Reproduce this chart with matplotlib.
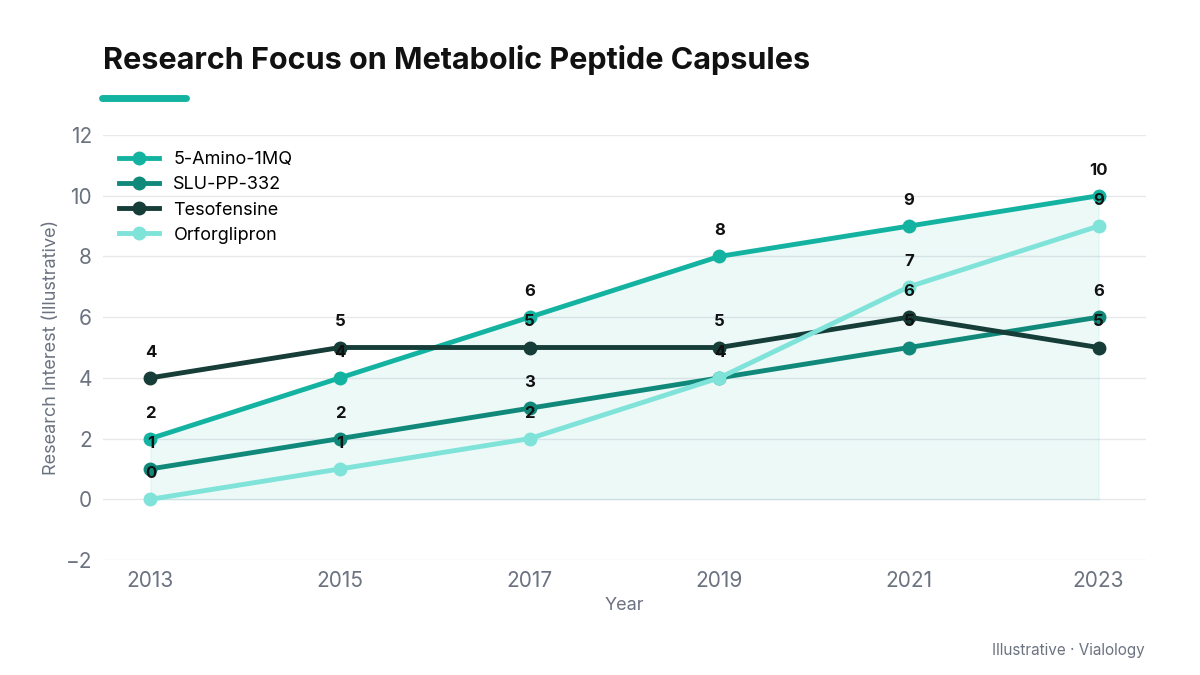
import matplotlib
matplotlib.use("Agg")
import matplotlib.pyplot as plt

years = [2013, 2015, 2017, 2019, 2021, 2023]
amino = [2, 4, 6, 8, 9, 10]
slu = [1, 2, 3, 4, 5, 6]
teso = [4, 5, 5, 5, 6, 5]
orfo = [0, 1, 2, 4, 7, 9]
series = [("5-Amino-1MQ", amino, "#14b3a1"),
          ("SLU-PP-332", slu, "#10897a"),
          ("Tesofensine", teso, "#163d38"),
          ("Orforglipron", orfo, "#7fe3d9")]

plt.rcParams['font.family'] = ['Inter', 'DejaVu Sans']
fig = plt.figure(figsize=(12, 6.75), dpi=100)
ax = fig.add_axes([103/1200, 1-560/675, (1146-103)/1200, (560-135)/675])

ax.fill_between(years, amino, 0, color="#14b3a1", alpha=0.08, zorder=1)
for name, vals, c in series:
    ax.plot(years, vals, color=c, lw=3.5, marker="o", ms=9, label=name, zorder=3)
    for x, y in zip(years, vals):
        ax.annotate(str(y), (x, y), xytext=(0, 13), textcoords="offset points",
                    ha="center", va="bottom", fontsize=12, fontweight="bold", color="#111111", zorder=4)

ax.set_xlim(2012.5, 2023.5)
ax.set_ylim(-2, 12)
ax.set_xticks(years)
ax.set_yticks(range(-2, 13, 2))
ax.grid(axis="y", color="#e6e8ea", lw=1)
ax.set_axisbelow(True)
for s in ax.spines.values():
    s.set_visible(False)
ax.tick_params(length=0, labelsize=15, colors="#6b7280", pad=8)
ax.set_xlabel("Year", fontsize=13, color="#6b7280")
ax.set_ylabel("Research Interest (Illustrative)", fontsize=13, color="#6b7280")
leg = ax.legend(loc="upper left", frameon=False, fontsize=13, handlelength=2.2,
                bbox_to_anchor=(0.0, 1.0), labelspacing=0.45)

fig.text(103/1200, 1-60/675, "Research Focus on Metabolic Peptide Capsules",
         fontsize=22, fontweight="bold", color="#111111", va="center", ha="left")
fig.add_artist(plt.Line2D([102/1200, 186/1200], [1-98/675, 1-98/675], color="#14b3a1", lw=5,
                          solid_capstyle="round"))
fig.text(1145/1200, 1-650/675, "Illustrative · Vialology", fontsize=11, color="#6b7280",
         ha="right", va="center")
fig.savefig("out.png", dpi=100)
